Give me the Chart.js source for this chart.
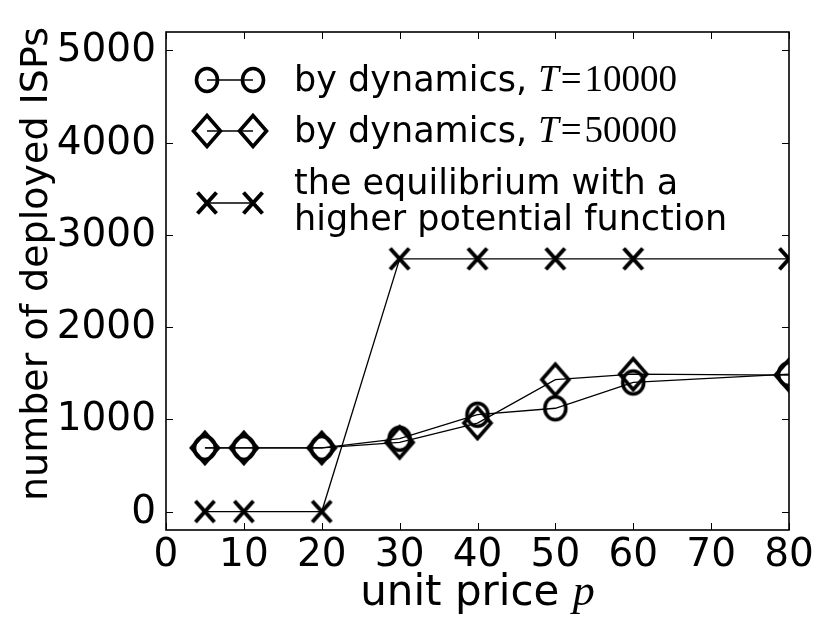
<!DOCTYPE html>
<html>
<head>
<meta charset="utf-8">
<script src="https://cdn.jsdelivr.net/npm/chart.js@4/dist/chart.umd.min.js"></script>
<style>
  html, body { margin: 0; padding: 0; background: #fff; }
  #c { display: block; }
</style>
</head>
<body>
<canvas id="c" width="830" height="623"></canvas>
<script>
// data
const prices = [5, 10, 20, 30, 40, 50, 60, 80];
const dynT10000 = [690, 690, 690, 790, 1050, 1120, 1400, 1490];
const dynT50000 = [690, 690, 690, 750, 960, 1430, 1490, 1480];
const equilibrium = [0, 0, 0, 2740, 2740, 2740, 2740, 2740];

const xTicks = [0, 10, 20, 30, 40, 50, 60, 70, 80];
const yTicks = [0, 1000, 2000, 3000, 4000, 5000];

const legendLabels = [
    ['by dynamics, ', 'T', '10000'],
    ['by dynamics, ', 'T', '50000'],
    ['the equilibrium with a', 'higher potential function']
];

const SANS = '"DejaVu Sans", sans-serif';
const SERIF = '"Liberation Serif", "DejaVu Serif", serif';

const toPoints = ys => prices.map((x, i) => ({ x: x, y: ys[i] }));

/**
 * build a hollow marker as a small canvas, used as pointStyle
 */
function makeMarker(kind) {
    const c = document.createElement('canvas');
    c.width = 40;
    c.height = 42;
    const g = c.getContext('2d');
    const cx = 20, cy = 21;
    g.strokeStyle = '#000';
    g.lineWidth = 3.6;
    g.beginPath();
    if (kind === 'circle') {
        g.ellipse(cx, cy, 10.5, 11.5, 0, 0, Math.PI * 2);
    } else if (kind === 'diamond') {
        g.moveTo(cx - 13.5, cy);
        g.lineTo(cx, cy - 15.5);
        g.lineTo(cx + 13.5, cy);
        g.lineTo(cx, cy + 15.5);
        g.closePath();
    } else {
        g.lineWidth = 4;
        g.moveTo(cx - 9.5, cy - 10.5);
        g.lineTo(cx + 9.5, cy + 10.5);
        g.moveTo(cx + 9.5, cy - 10.5);
        g.lineTo(cx - 9.5, cy + 10.5);
    }
    g.stroke();
    return c;
}

const markers = {
    circle: makeMarker('circle'),
    diamond: makeMarker('diamond'),
    cross: makeMarker('cross')
};

function putText(ctx, text, x, y, font, align) {
    ctx.font = font;
    ctx.textAlign = align || 'left';
    ctx.textBaseline = 'alphabetic';
    ctx.fillText(text, x, y);
}

// frame, inward ticks on all sides, tick labels, axis titles and legend
const decorations = {
    id: 'decorations',
    afterDraw(chart) {
        const ctx = chart.ctx;
        const a = chart.chartArea;
        const xs = chart.scales.x;
        const ys = chart.scales.y;
        const tickFont = '39px ' + SANS;

        ctx.save();
        ctx.strokeStyle = '#000';
        ctx.fillStyle = '#000';
        ctx.lineWidth = 1;
        ctx.beginPath();
        xTicks.forEach(t => {
            const px = Math.round(xs.getPixelForValue(t)) + 0.5;
            ctx.moveTo(px, a.bottom);
            ctx.lineTo(px, a.bottom - 7);
            ctx.moveTo(px, a.top);
            ctx.lineTo(px, a.top + 7);
        });
        yTicks.forEach(t => {
            const py = Math.round(ys.getPixelForValue(t)) + 0.5;
            ctx.moveTo(a.left, py);
            ctx.lineTo(a.left + 7, py);
            ctx.moveTo(a.right, py);
            ctx.lineTo(a.right - 7, py);
        });
        ctx.stroke();

        ctx.lineWidth = 1.6;
        ctx.strokeRect(a.left, a.top, a.right - a.left, a.bottom - a.top);

        // tick labels
        xTicks.forEach(t => {
            putText(ctx, String(t), xs.getPixelForValue(t), a.bottom + 36, tickFont, 'center');
        });
        yTicks.forEach(t => {
            putText(ctx, String(t), a.left - 10, ys.getPixelForValue(t) + 11, tickFont, 'right');
        });

        // axis titles
        const titleFont = '42px ' + SANS;
        const mathFont = 'italic 44px ' + SERIF;
        ctx.font = titleFont;
        const w1 = ctx.measureText('unit price ').width;
        ctx.font = mathFont;
        const w2 = ctx.measureText('p').width;
        const x0 = (a.left + a.right) / 2 - (w1 + w2) / 2;
        putText(ctx, 'unit price ', x0, 605, titleFont);
        putText(ctx, 'p', x0 + w1, 605, mathFont);

        ctx.save();
        ctx.translate(47, 264);
        ctx.rotate(-Math.PI / 2);
        putText(ctx, 'number of deployed ISPs', 0, 0, '38px ' + SANS, 'center');
        ctx.restore();

        // legend
        const rows = [
            { m: markers.circle, y: 80 },
            { m: markers.diamond, y: 131 },
            { m: markers.cross, y: 203 }
        ];
        const m1 = 207, m2 = 253, tx = 294;
        const legFont = '35px ' + SANS;
        rows.forEach((r, i) => {
            ctx.lineWidth = 1.4;
            ctx.beginPath();
            ctx.moveTo(m1, r.y);
            ctx.lineTo(m2, r.y);
            ctx.stroke();
            ctx.drawImage(r.m, m1 - r.m.width / 2, r.y - r.m.height / 2);
            ctx.drawImage(r.m, m2 - r.m.width / 2, r.y - r.m.height / 2);

            const lbl = legendLabels[i];
            if (lbl.length === 3) {
                const base = r.y + 11;
                putText(ctx, lbl[0], tx, base, legFont);
                let cx = tx + ctx.measureText(lbl[0]).width;
                const tf = 'italic 37px ' + SERIF;
                const nf = '37px ' + SERIF;
                putText(ctx, lbl[1], cx, base, tf);
                cx += ctx.measureText(lbl[1]).width + 2;
                putText(ctx, '=', cx, base, nf);
                cx += ctx.measureText('=').width + 3;
                putText(ctx, lbl[2], cx, base, nf);
            } else {
                putText(ctx, lbl[0], tx, r.y - 9, legFont);
                putText(ctx, lbl[1], tx, r.y + 27, legFont);
            }
        });
        ctx.restore();
    }
};

const lineBase = {
    borderColor: '#000',
    borderWidth: 1.3,
    pointBorderColor: '#000',
    pointRadius: 12,
    pointHoverRadius: 12,
    fill: false,
    tension: 0,
    clip: 0
};

new Chart(document.getElementById('c'), {
    type: 'line',
    data: {
        datasets: [
            Object.assign({}, lineBase, {
                label: 'by dynamics, T=10000',
                data: toPoints(dynT10000),
                pointStyle: markers.circle
            }),
            Object.assign({}, lineBase, {
                label: 'by dynamics, T=50000',
                data: toPoints(dynT50000),
                pointStyle: markers.diamond
            }),
            Object.assign({}, lineBase, {
                label: 'the equilibrium with a higher potential function',
                data: toPoints(equilibrium),
                pointStyle: markers.cross
            })
        ]
    },
    options: {
        responsive: false,
        animation: false,
        events: [],
        layout: { padding: { top: 32, right: 41, left: 0, bottom: 0 } },
        plugins: {
            legend: { display: false },
            tooltip: { enabled: false }
        },
        scales: {
            x: {
                type: 'linear',
                min: 0,
                max: 80,
                afterBuildTicks: s => { s.ticks = xTicks.map(v => ({ value: v })); },
                afterFit: s => { s.height = 93; },
                grid: { display: false, drawTicks: false },
                border: { display: false },
                ticks: { display: false }
            },
            y: {
                type: 'linear',
                min: -200,
                max: 5200,
                afterBuildTicks: s => { s.ticks = yTicks.map(v => ({ value: v })); },
                afterFit: s => { s.width = 166; },
                grid: { display: false, drawTicks: false },
                border: { display: false },
                ticks: { display: false }
            }
        }
    },
    plugins: [decorations]
});
</script>
</body>
</html>
